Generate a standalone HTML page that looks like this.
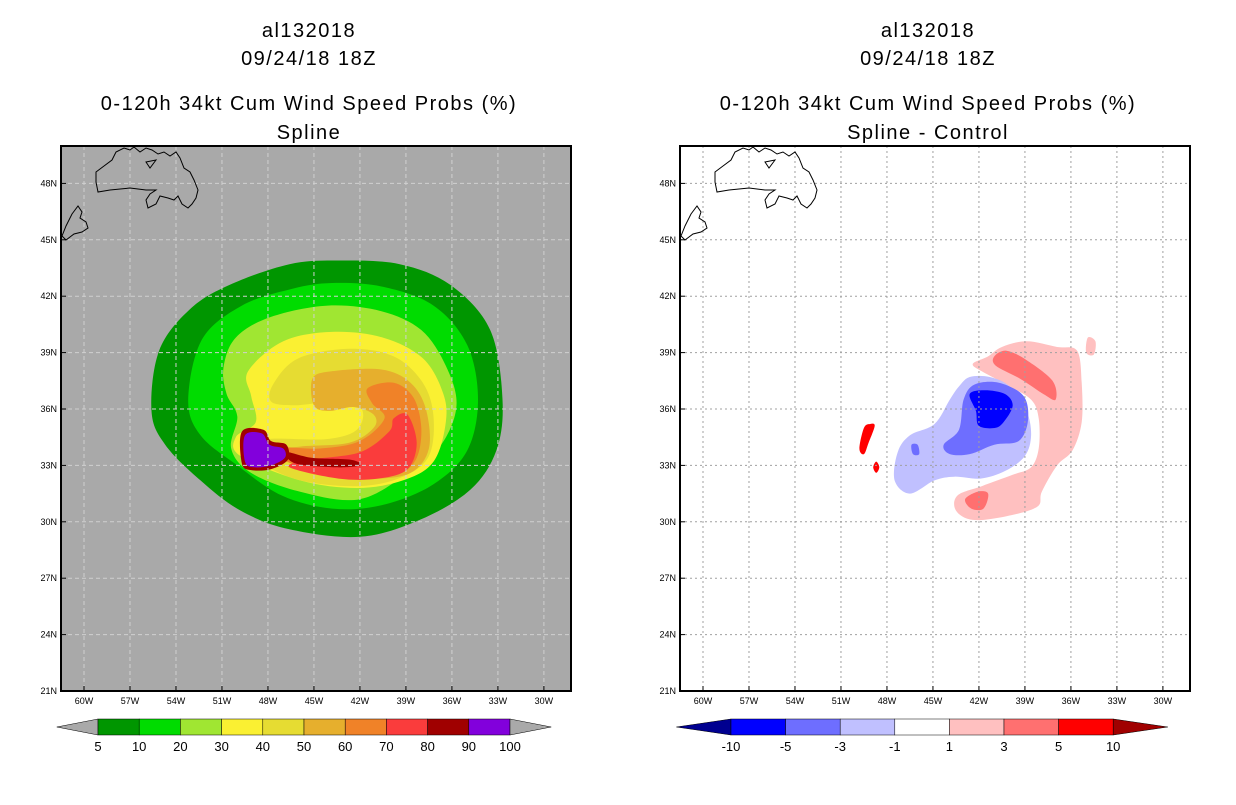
<!DOCTYPE html>
<html><head><meta charset="utf-8">
<style>
body{margin:0;background:#fff;width:1236px;height:800px;overflow:hidden;font-family:"Liberation Sans",sans-serif}
svg text{font-family:"Liberation Sans",sans-serif}
</style></head>
<body>
<svg id="root" width="1236" height="800" xmlns="http://www.w3.org/2000/svg">
<g id="titles"></g>
<g id="left"></g>
<g id="right"></g>
</svg>
<script>
// ---- data (lon in degrees West, lat in degrees North) ----
const lonTicks=[60,57,54,51,48,45,42,39,36,33,30];
const latTicks=[48,45,42,39,36,33,30,27,24,21];
const leftLevels=["5","10","20","30","40","50","60","70","80","90","100"];
const leftColors=["#009600","#00dc00","#a0e632","#faf032","#e6dc32","#e6af2d","#f08228","#fa3c3c","#a00000","#8200dc"];
const rightLevels=["-10","-5","-3","-1","1","3","5","10"];
const rightColors=["#000090","#0000ff","#6e6eff","#c0c0ff","#ffffff","#ffc0c0","#ff7070","#ff0000","#a00000"];
// contour polygons: [lonW, lat]
const prob5=[[55.6,35.9],[55.1,39.1],[53.1,41.3],[50.5,42.6],[46.6,43.7],[43.3,43.9],[39.4,43.7],[36.1,42.6],[33.5,40.2],[32.7,36.5],[33.1,33.8],[34.8,31.7],[38.1,30.1],[42.0,29.2],[46.6,29.6],[49.8,30.6],[52.4,32.2],[54.7,34.1]];
const prob10=[[53.2,36.5],[52.3,39.7],[49.7,41.5],[46.4,42.4],[43.8,42.7],[40.5,42.5],[37.2,41.5],[35.0,39.4],[34.3,36.5],[35.0,33.8],[37.2,32.0],[40.5,30.9],[43.8,30.7],[47.1,31.4],[50.0,33.0],[52.4,34.6]];
const prob20=[[50.9,38.2],[50.1,39.8],[47.8,40.9],[44.1,41.5],[40.6,41.2],[38.0,40.2],[36.4,38.3],[35.7,36.2],[36.7,34.1],[38.7,32.7],[42.0,31.2],[45.9,31.6],[49.1,32.6],[50.4,33.9],[50.0,35.6],[50.7,36.8]];
const prob30=[[49.3,38.0],[47.0,39.6],[43.8,40.1],[40.5,39.8],[37.9,38.7],[36.6,36.9],[36.4,35.3],[37.2,33.2],[39.2,32.2],[42.2,31.8],[45.9,32.2],[49.8,33.5],[50.1,34.5],[48.8,35.3],[49.1,36.7]];
const prob40=[[47.6,37.4],[46.0,38.7],[42.7,39.2],[39.8,38.8],[37.9,37.4],[37.2,35.6],[37.5,33.5],[39.2,32.4],[42.0,31.9],[45.9,32.2],[48.9,33.3],[49.6,33.9],[48.1,34.4],[44.2,34.4],[42.2,34.9],[41.9,36.0],[43.6,36.4],[46.2,36.2],[47.8,36.4]];
const prob50=[[45.1,37.6],[43.9,38.0],[40.6,38.1],[38.7,37.4],[37.7,36.0],[37.5,33.9],[38.7,32.6],[41.3,32.3],[44.5,32.6],[48.1,33.7],[45.9,34.0],[42.7,34.2],[41.1,35.0],[41.1,35.7],[42.4,36.1],[44.0,35.9],[45.0,36.2]];
const prob60=[[41.5,37.1],[39.8,37.4],[38.5,36.6],[38.0,35.0],[38.3,33.4],[39.4,32.6],[42.0,32.3],[45.3,32.7],[47.9,33.9],[44.6,33.9],[42.0,34.3],[40.4,35.5],[41.2,36.3]];
const prob70=[[39.8,35.5],[38.9,35.7],[38.3,34.2],[38.9,32.8],[40.8,32.3],[43.4,32.3],[46.6,32.9],[45.3,33.3],[42.0,33.7],[40.1,34.8]];
const prob80=[[46.8,33.7],[45.1,33.4],[42.6,33.3],[42.0,33.0],[43.6,32.9],[46.2,33.1]];
const prob80b=[[49.7,34.8],[48.3,34.9],[47.8,34.3],[46.8,34.1],[46.7,33.3],[47.8,32.8],[49.1,32.75],[49.7,33.1]];
const prob90=[[49.5,34.6],[48.4,34.7],[47.9,34.1],[47.0,33.9],[46.9,33.4],[47.8,33.0],[48.9,32.9],[49.5,33.2]];
const diffNeg1=[[47.3,33.7],[46.5,34.6],[44.9,35.2],[43.9,36.5],[43.3,37.2],[42.6,37.7],[41.3,37.7],[40.0,37.2],[38.9,35.9],[38.6,34.6],[39.0,33.5],[40.3,32.7],[41.9,32.3],[43.6,32.4],[44.9,32.2],[46.5,31.5],[47.5,32.2]];
const diffNeg3=[[44.3,34.1],[43.3,34.9],[43.0,36.5],[42.3,37.3],[40.7,37.4],[39.1,36.7],[38.8,35.4],[39.4,34.3],[41.0,34.1],[42.6,33.6],[43.9,33.6]];
const diffNeg5=[[42.6,36.8],[41.6,37.0],[40.3,36.8],[39.8,36.2],[40.3,35.4],[40.9,35.0],[42.0,35.1],[42.2,35.9]];
const diffPos1=[[42.4,38.4],[41.4,38.8],[40.5,39.3],[38.9,39.6],[36.9,39.3],[35.6,39.1],[35.3,37.4],[35.3,35.3],[35.9,33.8],[36.9,33.0],[37.9,31.6],[38.2,30.8],[40.2,30.3],[42.4,30.1],[43.5,30.6],[43.4,31.4],[41.8,31.9],[39.8,32.5],[38.6,32.9],[38.1,33.9],[38.1,35.5],[38.6,36.5],[40.2,37.3],[41.8,38.0]];
const diffPos1b=[[34.9,39.8],[34.4,39.6],[34.5,38.9],[35.0,39.0]];
const diffPos3=[[41.0,38.8],[40.2,39.1],[38.9,38.6],[37.2,37.5],[37.0,36.5],[37.8,36.8],[39.3,37.6],[40.9,38.3]];
const diffPos3b=[[42.9,31.2],[42.1,31.6],[41.4,31.5],[41.7,30.7],[42.5,30.7]];
const diffPos5=[[49.5,35.0],[49.1,35.2],[48.8,35.1],[49.2,34.2],[49.5,33.6],[49.8,33.9]];
const diffPos5b=[[48.7,33.2],[48.5,32.9],[48.7,32.6],[48.9,32.9]];
const diffNeg3b=[[46.4,34.1],[46.0,34.1],[45.9,33.6],[46.3,33.6]];

const NS="http://www.w3.org/2000/svg";
function mk(tag,attrs,parent){const e=document.createElementNS(NS,tag);for(const k in attrs)e.setAttribute(k,attrs[k]);parent.appendChild(e);return e;}
function panel(x0){ // axis functions
  return {x:lon=>x0+84+(60-lon)*15.33, y:lat=>691-(lat-21)*18.8};
}
function smooth(pts,ax){
  const p=pts.map(q=>[ax.x(q[0]),ax.y(q[1])]);const n=p.length;let d=`M${p[0][0].toFixed(1)},${p[0][1].toFixed(1)}`;
  for(let i=0;i<n;i++){const p0=p[(i-1+n)%n],p1=p[i],p2=p[(i+1)%n],p3=p[(i+2)%n];
    const c1=[p1[0]+(p2[0]-p0[0])/6,p1[1]+(p2[1]-p0[1])/6],c2=[p2[0]-(p3[0]-p1[0])/6,p2[1]-(p3[1]-p1[1])/6];
    d+=`C${c1[0].toFixed(1)},${c1[1].toFixed(1)} ${c2[0].toFixed(1)},${c2[1].toFixed(1)} ${p2[0].toFixed(1)},${p2[1].toFixed(1)}`;}
  return d+'Z';
}
const titles=document.getElementById('titles');
function title(cx,lines){
  const ys=[37,65,110,139];
  lines.forEach((t,i)=>{const e=mk('text',{x:cx,y:ys[i],'text-anchor':'middle','font-size':'20','letter-spacing':'1.5',fill:'#000'},titles);e.textContent=t;
    
    });
}
title(309,["al132018","09/24/18 18Z","0-120h 34kt Cum Wind Speed Probs (%)","Spline"]);
title(928,["al132018","09/24/18 18Z","0-120h 34kt Cum Wind Speed Probs (%)","Spline - Control"]);

const coast1="M96,172 L104,166 L112,160 L116,152 L124,148 L130,150 L134,147 L140,152 L146,148 L152,150 L158,154 L164,152 L170,156 L176,152 L180,158 L184,168 L190,172 L194,180 L198,190 L196,198 L192,204 L188,208 L182,204 L178,196 L174,200 L168,198 L160,196 L156,204 L148,208 L146,200 L150,194 L156,190 L146,190 L130,188 L110,190 L98,192 L96,182 Z M146,162 L156,160 L150,168 Z";
const coast2="M62,236 L66,226 L72,214 L78,206 L82,212 L80,218 L86,222 L88,228 L82,232 L74,234 L66,240 Z";

function drawPanel(gid,x0,bg,gridColor,dash,layers,cbLevels,cbColors,cbX,cbW,prefix){
  const g=document.getElementById(gid);const ax=panel(x0);
  const px0=x0+61,px1=x0+571,py0=146,py1=691;
  const r=mk('rect',{x:px0,y:py0,width:px1-px0,height:py1-py0,fill:bg},g);
  
  
  const cl=mk('clipPath',{id:gid+'clip'},g);mk('rect',{x:px0,y:py0,width:px1-px0,height:py1-py0},cl);
  const cg=mk('g',{'clip-path':`url(#${gid}clip)`},g);
  layers.forEach(([name,pts,col])=>{const p=mk('path',{d:smooth(pts,ax),fill:col},cg);
    
    });
  lonTicks.forEach(l=>{const x=ax.x(l);mk('line',{x1:x,x2:x,y1:py0,y2:py1,stroke:gridColor,'stroke-width':1,'stroke-dasharray':dash},cg);});
  latTicks.forEach(l=>{const y=ax.y(l);mk('line',{x1:px0,x2:px1,y1:y,y2:y,stroke:gridColor,'stroke-width':1,'stroke-dasharray':dash},cg);});
  const c=mk('path',{d:coast1+' '+coast2,fill:'none',stroke:'#000','stroke-width':1,transform:`translate(${x0},0)`},cg);
  
  
  const fr=mk('rect',{x:px0,y:py0,width:px1-px0,height:py1-py0,fill:'none',stroke:'#000','stroke-width':2},g);
  
  
  lonTicks.forEach(l=>{const x=ax.x(l);mk('line',{x1:x,x2:x,y1:py1,y2:py1-5,stroke:'#000'},g);
    const t=mk('text',{x:x,y:704,'text-anchor':'middle','font-size':'9'},g);t.textContent=l+'W';
    
    });
  latTicks.forEach(l=>{const y=ax.y(l);mk('line',{x1:px0,x2:px0+5,y1:y,y2:y,stroke:'#000'},g);
    const t=mk('text',{x:px0-4,y:y+3,'text-anchor':'end','font-size':'9'},g);t.textContent=l+'N';
    
    });
  const n=cbLevels.length;const bx0=cbX,bw=cbW;const y0=719,h=16;
  const tri1=mk('polygon',{points:`${bx0-bw},${y0+h/2} ${bx0},${y0} ${bx0},${y0+h}`,fill:cbColors[0],stroke:'#000','stroke-width':0.5},g);
  
  
  for(let i=0;i<n-1;i++){const b=mk('rect',{x:bx0+i*bw,y:y0,width:bw,height:h,fill:cbColors[i+1],stroke:'#000','stroke-width':0.5},g);
    
    }
  const xe=bx0+(n-1)*bw;
  const tri2=mk('polygon',{points:`${xe},${y0} ${xe+bw},${y0+h/2} ${xe},${y0+h}`,fill:cbColors[n],stroke:'#000','stroke-width':0.5},g);
  
  
  cbLevels.forEach((v,i)=>{const t=mk('text',{x:bx0+i*bw,y:751,'text-anchor':'middle','font-size':'13'},g);t.textContent=v;
    
    });
}
drawPanel('left',0,'#a9a9a9','#d0d0d0','4,3',[
 ['prob-5',prob5,leftColors[0]],['prob-10',prob10,leftColors[1]],['prob-20',prob20,leftColors[2]],['prob-30',prob30,leftColors[3]],
 ['prob-40',prob40,leftColors[4]],['prob-50',prob50,leftColors[5]],['prob-60',prob60,leftColors[6]],['prob-70',prob70,leftColors[7]],
 ['prob-80',prob80,leftColors[8]],['prob-80-halo',prob80b,leftColors[8]],['prob-90',prob90,leftColors[9]]],
 leftLevels,['#a9a9a9'].concat(leftColors).concat(['#a9a9a9']),98,41.2,'left-');
drawPanel('right',619,'#ffffff','#a0a0a0','2,3',[
 ['diff-pos1',diffPos1,rightColors[5]],['diff-pos1b',diffPos1b,rightColors[5]],['diff-pos3',diffPos3,rightColors[6]],['diff-pos3b',diffPos3b,rightColors[6]],
 ['diff-neg1',diffNeg1,rightColors[3]],['diff-neg3',diffNeg3,rightColors[2]],['diff-neg5',diffNeg5,rightColors[1]],
 ['diff-neg3b',diffNeg3b,rightColors[2]],['diff-pos5',diffPos5,rightColors[7]],['diff-pos5b',diffPos5b,rightColors[7]]],
 rightLevels,rightColors,731,54.6,'right-');
</script>
</body></html>
